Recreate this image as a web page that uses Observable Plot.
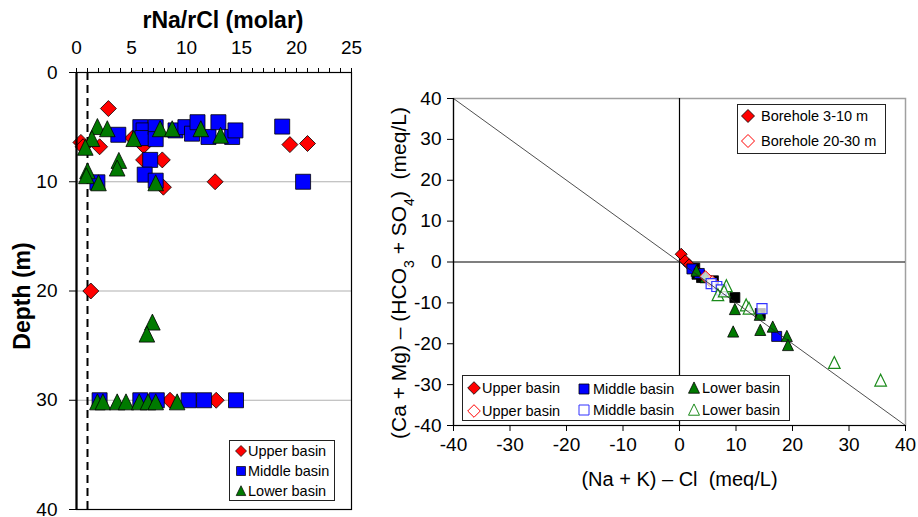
<!DOCTYPE html>
<html><head><meta charset="utf-8">
<script src="https://cdn.jsdelivr.net/npm/d3@7"></script>
<script src="https://cdn.jsdelivr.net/npm/@observablehq/plot@0.6"></script>
<style>
body{margin:0;background:#fff;font-family:"Liberation Sans",Arial,Helvetica,sans-serif;}
#wrap{position:relative;width:918px;height:517px;overflow:hidden;background:#fff;}
.panel{position:absolute;top:0;}
.legend{position:absolute;background:#fff;border:1px solid #222;box-sizing:border-box;}
.legend svg{position:absolute;overflow:visible;}
.legend span{position:absolute;font-size:14.5px;line-height:20px;white-space:nowrap;color:#000;}
</style></head>
<body><div id="wrap"></div>
<script>
// ---------- Left panel: rNa/rCl (molar) vs depth (m) ----------
const upperRatioDepth = [[2.9,3.3],[0.4,6.4],[0.6,6.8],[2.1,6.8],[5.1,6.0],[6.1,6.7],[19.4,6.6],[21.0,6.5],[6.1,8.0],[7.8,8.0],[12.6,10.0],[7.9,10.5],[1.3,20.0],[8.5,30.0],[12.7,30.0]];
const middleRatioDepth = [[3.8,5.7],[5.8,5.0],[6.1,5.3],[6.0,6.0],[7.2,5.0],[7.2,6.1],[9.0,5.3],[9.9,5.0],[10.5,5.6],[11.0,4.55],[12.0,5.9],[12.9,4.55],[14.15,5.9],[14.45,5.3],[18.7,4.95],[6.7,8.0],[6.2,9.35],[7.2,9.9],[1.9,10.05],[20.6,10.0],[2.1,30],[5.8,30],[7.3,30],[10.2,30],[11.6,30],[14.5,30]];
const lowerRatioDepth = [[1.9,5.0],[2.8,5.2],[1.4,6.1],[0.8,6.9],[5.2,6.1],[7.6,5.2],[8.7,5.2],[11.3,5.2],[13.1,5.8],[3.85,8.1],[3.7,8.8],[1.0,9.05],[0.9,9.5],[2.0,10.15],[7.2,10.15],[6.9,22.9],[6.4,24.0],[1.9,30.2],[2.4,30.2],[3.7,30.2],[4.5,30.2],[5.7,30.2],[6.5,30.2],[7.2,30.2],[9.15,30.2]];
const ratioMajorTicks = [0,5,10,15,20,25];
const ratioMinorTicks = d3.range(0,26);
const depthTicks = [0,10,20,30,40];
const depthGrid = [10,20,30];
const ratioReference = [1];

// ---------- Right panel: (Na+K)-Cl vs (Ca+Mg)-(HCO3+SO4), meq/L ----------
const upperShallow = [[0.3,1.9],[1.0,0.3],[1.7,-0.7],[2.6,-1.8],[3.3,-2.6],[4.3,-3.4],[5.3,-4.5]];
const upperDeep = [[4.6,-3.6],[5.8,-4.8]];
const otherSamples = [[2.7,-1.5],[3.1,-3.0],[3.9,-3.8],[6.0,-4.6],[9.8,-8.7],[14.3,-12.6]];
const middleShallow = [[2.2,-1.7],[3.5,-2.8],[17.2,-18.2]];
const middleDeep = [[5.6,-5.3],[6.6,-6.0],[7.4,-6.8],[14.6,-11.4]];
const lowerShallow = [[3.0,-2.2],[4.6,-3.8],[9.8,-11.6],[9.5,-17.1],[14.2,-13.0],[14.3,-16.7],[16.5,-15.9],[19.0,-18.2],[19.2,-20.4]];
const lowerDeep = [[6.8,-8.1],[8.3,-5.9],[7.9,-7.2],[11.8,-10.6],[12.3,-11.4],[27.4,-24.7],[35.6,-29.0]];
const ionTicks = [-40,-30,-20,-10,0,10,20,30,40];
const equilineX = [-40, 40];

// ---------- symbols ----------
const mkSym = f => ({draw(ctx, size){ const r = Math.sqrt(size/Math.PI); f(ctx, r); }});
const diamond = mkSym((c,r)=>{c.moveTo(0,-r);c.lineTo(r,0);c.lineTo(0,r);c.lineTo(-r,0);c.closePath();});
const square = mkSym((c,r)=>{c.moveTo(-r,-r);c.lineTo(r,-r);c.lineTo(r,r);c.lineTo(-r,r);c.closePath();});
const triangle = mkSym((c,r)=>{c.moveTo(0,-1.1*r);c.lineTo(r,0.95*r);c.lineTo(-r,0.95*r);c.closePath();});

const RED="#ff0000", BLUE="#0000ff", GREEN="#007a00";
const font = '"Liberation Sans", Arial, Helvetica, sans-serif';
const X = d=>d[0], Y = d=>d[1];

const left = Plot.plot({
  width: 365, height: 517,
  marginLeft: 76, marginRight: 14, marginTop: 72, marginBottom: 8,
  style: {background:"transparent", fontFamily: font, fontSize:"19px", overflow:"visible", color:"#000"},
  x: {domain:[0,25]},
  y: {domain:[0,40], reverse:true},
  marks: [
    Plot.ruleY(depthGrid, {stroke:"#b0b0b0", strokeWidth:1.2}),
    Plot.ruleX(ratioReference, {stroke:"#000", strokeWidth:2, strokeDasharray:"8,5"}),
    Plot.dot(upperRatioDepth, {x:X, y:Y, symbol:diamond, r:8, fill:RED, stroke:"#000", strokeWidth:0.8}),
    Plot.dot(middleRatioDepth, {x:X, y:Y, symbol:square, r:7.5, fill:BLUE, stroke:"#000", strokeWidth:0.8}),
    Plot.dot(lowerRatioDepth, {x:X, y:Y, symbol:triangle, r:7.8, fill:GREEN, stroke:"#000", strokeWidth:0.8}),
    Plot.frame({stroke:"#000", strokeWidth:1.2}),
    Plot.ruleX([0], {stroke:"#000", strokeWidth:2.2}),
    Plot.axisX({anchor:"top", ticks:ratioMinorTicks, tickSize:5, tickFormat:()=>"", label:null}),
    Plot.axisX({anchor:"top", ticks:ratioMajorTicks, tickSize:5, tickPadding:14, label:null, tickFormat:d=>String(d)}),
    Plot.axisY({anchor:"left", ticks:depthTicks, tickSize:7, tickPadding:12, label:null, tickFormat:d=>String(d)}),
    Plot.text(["rNa/rCl (molar)"], {frameAnchor:"top", text:d=>d, dy:-61, dx:9, fontWeight:"bold", fontSize:23}),
    Plot.text(["Depth (m)"], {frameAnchor:"left", textAnchor:"middle", text:d=>d, rotate:-90, dx:-54, dy:5, fontWeight:"bold", fontSize:23})
  ]
});

const right = Plot.plot({
  width: 553, height: 517,
  marginLeft: 88, marginRight: 13, marginTop: 98, marginBottom: 92,
  style: {background:"transparent", fontFamily: font, fontSize:"19px", overflow:"visible", color:"#000"},
  x: {domain:[-40,40]},
  y: {domain:[-40,40]},
  marks: [
    Plot.frame({stroke:"#a0a0a0", strokeWidth:1.5}),
    Plot.ruleX([0], {stroke:"#000", strokeWidth:1.2}),
    Plot.ruleY([0], {stroke:"#000", strokeWidth:1.2}),
    Plot.dot(otherSamples, {x:X, y:Y, symbol:square, r:5, fill:"#000", stroke:"#000", strokeWidth:0.8}),
    Plot.dot(upperShallow, {x:X, y:Y, symbol:diamond, r:6, fill:RED, stroke:"#000", strokeWidth:0.8}),
    Plot.dot(middleShallow, {x:X, y:Y, symbol:square, r:5, fill:BLUE, stroke:"#000", strokeWidth:0.8}),
    Plot.dot(lowerShallow, {x:X, y:Y, symbol:triangle, r:5.5, fill:GREEN, stroke:"#000", strokeWidth:0.8}),
    Plot.dot(upperDeep, {x:X, y:Y, symbol:diamond, r:6, fill:"#fff", fillOpacity:0.75, stroke:RED, strokeWidth:1}),
    Plot.dot(middleDeep, {x:X, y:Y, symbol:square, r:5, fill:"#fff", fillOpacity:0.75, stroke:"#3333ff", strokeWidth:1.2}),
    Plot.dot(lowerDeep, {x:X, y:Y, symbol:triangle, r:5.8, fill:"#fff", fillOpacity:0.75, stroke:"#1a8a1a", strokeWidth:1.2}),
    Plot.line(equilineX, {x:d=>d, y:d=>-d, stroke:"#222", strokeWidth:0.8}),
    Plot.ruleX([-40], {stroke:"#000", strokeWidth:1.2}),
    Plot.ruleY([-40], {stroke:"#000", strokeWidth:1.2}),
    Plot.axisX({anchor:"bottom", ticks:ionTicks, tickSize:6, tickPadding:6, label:null, tickFormat:d=>String(d)}),
    Plot.axisY({anchor:"left", ticks:ionTicks, tickSize:6, tickPadding:6, label:null, tickFormat:d=>String(d)}),
    Plot.text(["(Na + K) – Cl  (meq/L)"], {frameAnchor:"bottom", text:d=>d, dy:60, fontSize:20}),
    Plot.text(["(Ca + Mg) – (HCO3 + SO4)  (meq/L)"], {frameAnchor:"left", textAnchor:"middle", text:d=>d, rotate:-90, dx:-54, dy:11, fontSize:21})
  ]
});

// subscripts for HCO3 and SO4 in the y label (kept as real text)
d3.select(right).selectAll("text").each(function(){
  if (this.textContent.indexOf("HCO3") >= 0) {
    const parts = this.textContent.split(/(3|4)/);
    this.textContent = "";
    for (const p of parts) {
      const ts = document.createElementNS("http://www.w3.org/2000/svg","tspan");
      ts.textContent = p;
      if (p === "3" || p === "4") { ts.setAttribute("font-size","14"); ts.setAttribute("baseline-shift","sub"); }
      this.appendChild(ts);
    }
  }
});

const wrap = document.getElementById("wrap");
const p1 = document.createElement("div"); p1.className="panel"; p1.style.left="0px"; p1.appendChild(left); wrap.appendChild(p1);
const p2 = document.createElement("div"); p2.className="panel"; p2.style.left="365px"; p2.appendChild(right); wrap.appendChild(p2);

// ---------- legends ----------
function symPath(sym, r){ const p = d3.path(); sym.draw(p, r*r*Math.PI); return p.toString(); }
function legendBox(l,t,w,h){ const b=document.createElement("div"); b.className="legend"; Object.assign(b.style,{left:l+"px",top:t+"px",width:w+"px",height:h+"px"}); wrap.appendChild(b); return b; }
function item(box, sym, r, fill, stroke, sw, label, cx, cy, tx){
  const ns="http://www.w3.org/2000/svg";
  const s=document.createElementNS(ns,"svg"); s.setAttribute("width","1"); s.setAttribute("height","1");
  s.style.left=cx+"px"; s.style.top=cy+"px";
  const p=document.createElementNS(ns,"path"); p.setAttribute("d",symPath(sym,r)); p.setAttribute("fill",fill); p.setAttribute("stroke",stroke); p.setAttribute("stroke-width",sw);
  s.appendChild(p); box.appendChild(s);
  const t=document.createElement("span"); t.textContent=label; t.style.left=tx+"px"; t.style.top=(cy-10)+"px"; box.appendChild(t);
}
const legendLeftLabels = ["Upper basin","Middle basin","Lower basin"];
const lb = legendBox(229,440,106,61);
item(lb, diamond, 5.5, RED, "#000", 0.7, legendLeftLabels[0], 11, 10, 18);
item(lb, square, 4.5, BLUE, "#000", 0.7, legendLeftLabels[1], 11, 30, 18);
item(lb, triangle, 4.8, GREEN, "#000", 0.7, legendLeftLabels[2], 11, 50, 18);

const legendDepthLabels = ["Borehole 3-10 m","Borehole 20-30 m"];
const tb = legendBox(737,104,149,50);
item(tb, diamond, 6.5, RED, "#000", 0.8, legendDepthLabels[0], 10, 11, 23);
item(tb, diamond, 6.5, "#fff", RED, 1, legendDepthLabels[1], 10, 36, 23);

const legendBasinLabels = ["Upper basin","Middle basin","Lower basin"];
const bb = legendBox(462,375,328,46);
item(bb, diamond, 6.3, RED, "#000", 0.8, legendBasinLabels[0], 11, 12, 19);
item(bb, square, 5, BLUE, "#000", 0.8, legendBasinLabels[1], 121, 13, 130);
item(bb, triangle, 5.5, GREEN, "#000", 0.8, legendBasinLabels[2], 231, 12, 239);
item(bb, diamond, 6.3, "#fff", RED, 1, legendBasinLabels[0], 11, 35, 19);
item(bb, square, 5, "#fff", "#3333ff", 1, legendBasinLabels[1], 121, 34, 130);
item(bb, triangle, 5.5, "#fff", "#1a8a1a", 1, legendBasinLabels[2], 231, 34, 239);
</script>
</body></html>
